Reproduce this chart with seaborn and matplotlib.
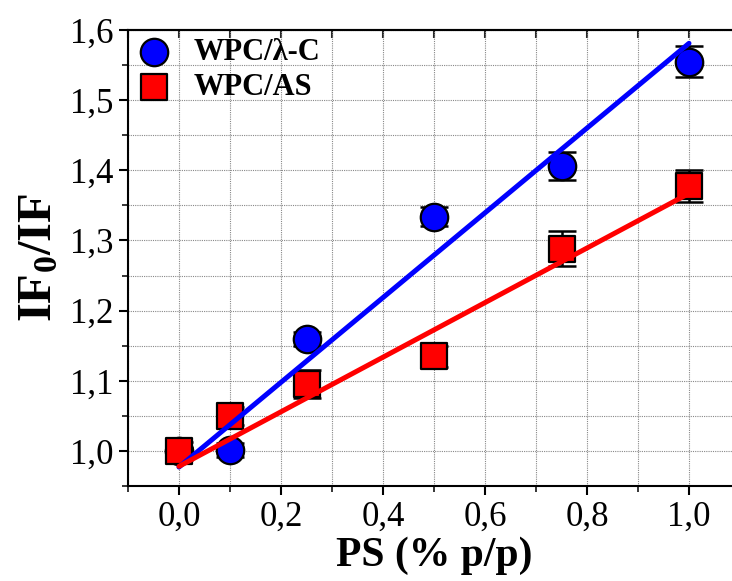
import numpy as np
import pandas as pd
import seaborn as sns
import matplotlib.pyplot as plt
from matplotlib.ticker import MultipleLocator, FuncFormatter

# values
ps = [0.0, 0.1, 0.25, 0.5, 0.75, 1.0]
lc_ratio = [1.000, 1.001, 1.160, 1.334, 1.406, 1.555]
lc_err = [0.013, 0.010, 0.010, 0.013, 0.020, 0.022]
as_ratio = [1.000, 1.050, 1.096, 1.135, 1.288, 1.378]
as_err = [0.004, 0.013, 0.020, 0.015, 0.025, 0.023]

# fitted straight lines (ends)
fit_x = [0.0, 1.0]
lc_fit = [0.977, 1.581]
as_fit = [0.978, 1.367]

sns.set_style('white')
plt.rcParams['font.family'] = ['Liberation Serif', 'DejaVu Serif']
plt.rcParams['mathtext.fontset'] = 'custom'
plt.rcParams['mathtext.rm'] = 'Liberation Serif'
plt.rcParams['mathtext.bf'] = 'Liberation Serif:bold'
plt.rcParams['text.color'] = 'black'
plt.rcParams['axes.labelcolor'] = 'black'

df = pd.concat([
    pd.DataFrame({'ps': ps, 'ratio': lc_ratio, 'err': lc_err, 'serie': 'WPC/λ-C'}),
    pd.DataFrame({'ps': ps, 'ratio': as_ratio, 'err': as_err, 'serie': 'WPC/AS'}),
])

fig = plt.figure(figsize=(7.32, 5.81), dpi=100)
ax = fig.add_axes([128 / 732, 95 / 581, 612 / 732, 456 / 581])

colors = {'WPC/λ-C': '#0000ff', 'WPC/AS': '#ff0000'}
markers = {'WPC/λ-C': 'o', 'WPC/AS': 's'}
sizes = {'WPC/λ-C': 390, 'WPC/AS': 330}

for name, sub in df.groupby('serie', sort=False):
    ax.errorbar(sub['ps'], sub['ratio'], yerr=sub['err'], fmt='none',
                ecolor='black', elinewidth=1.8, capsize=10, capthick=1.8, zorder=2)
    sns.scatterplot(x=sub['ps'], y=sub['ratio'], ax=ax, color=colors[name],
                    marker=markers[name], s=sizes[name], edgecolor='black',
                    linewidth=1.6, label=name, zorder=3)

sns.lineplot(x=fit_x, y=lc_fit, ax=ax, color='#0000ff', linewidth=3.6, zorder=4)
sns.lineplot(x=fit_x, y=as_fit, ax=ax, color='#ff0000', linewidth=3.6, zorder=4)

ax.set_xlim(-0.1, 1.1)
ax.set_ylim(0.95, 1.6)
ax.xaxis.set_major_locator(MultipleLocator(0.2))
ax.xaxis.set_minor_locator(MultipleLocator(0.1))
ax.yaxis.set_major_locator(MultipleLocator(0.1))
ax.yaxis.set_minor_locator(MultipleLocator(0.05))
comma = FuncFormatter(lambda v, p: f'{v:.1f}'.replace('.', ','))
ax.xaxis.set_major_formatter(comma)
ax.yaxis.set_major_formatter(comma)

ax.tick_params(which='major', direction='out', length=6.5, width=1.5,
               labelsize=25, colors='black', pad=4)
ax.tick_params(which='minor', direction='out', length=4, width=1.3)
ax.tick_params(axis='both', which='both', bottom=True, left=True)

top = ax.secondary_xaxis('top')
top.set_xticks(np.arange(-0.1, 1.15, 0.1))
top.tick_params(direction='in', length=6, width=1.5, labeltop=False)
top.spines['top'].set_linewidth(1.5)

ax.grid(True, which='both', color='#888888', linestyle=(0, (1, 1)), linewidth=0.8)
for sp in ax.spines.values():
    sp.set_linewidth(1.5)
    sp.set_color('black')

ax.set_xlabel('PS (% p/p)', fontsize=30, fontweight='bold', labelpad=2)
ax.set_ylabel(r'$\mathbf{IF_0/IF}$', fontsize=35, labelpad=6)

ax.legend(loc='upper left', bbox_to_anchor=(0.0, 1.0), frameon=False,
          prop={'weight': 'bold', 'size': 22}, handletextpad=0.7,
          borderaxespad=0.0, borderpad=0.25, labelspacing=0.22,
          handlelength=1.2, markerscale=1.0)

fig.savefig('out.png', dpi=100)
